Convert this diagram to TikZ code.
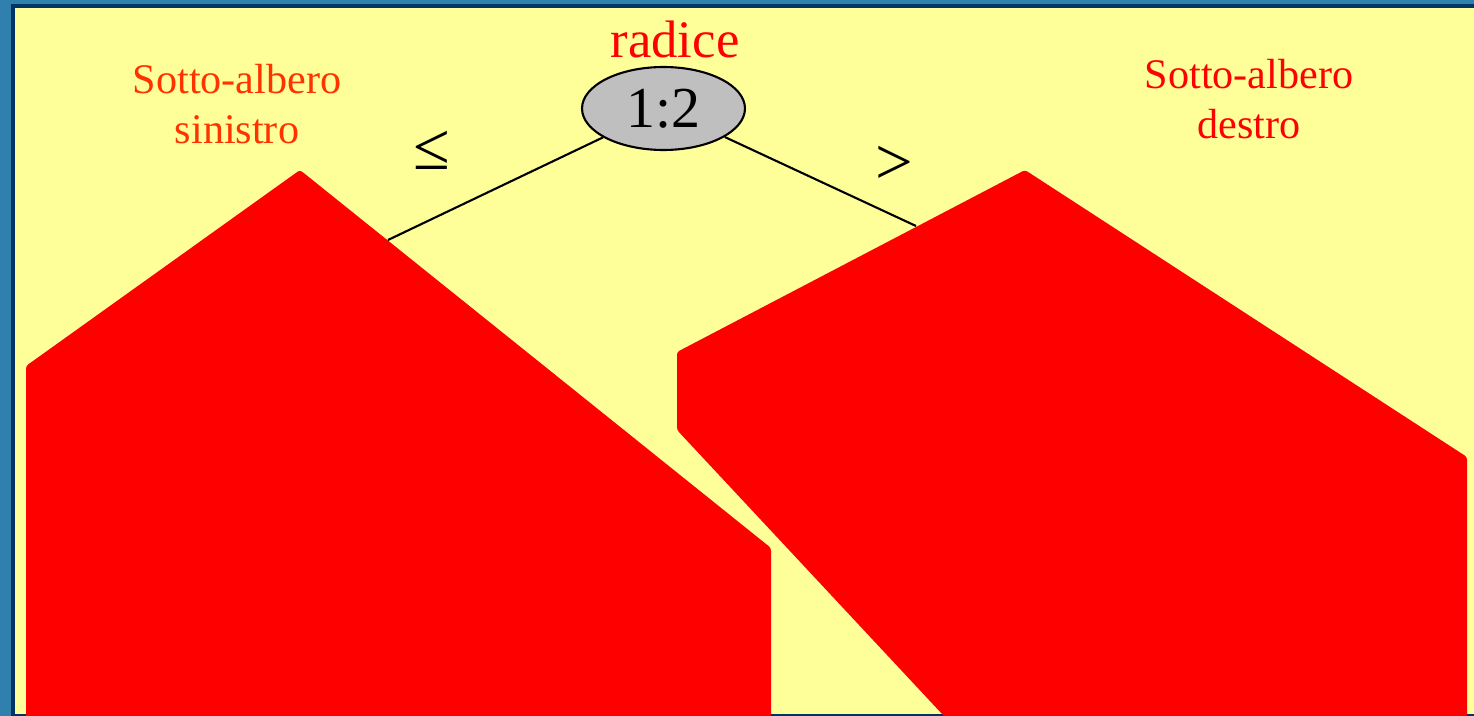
\documentclass[tikz,border=0pt]{standalone}
\usepackage{fontspec}
\setmainfont{Liberation Serif}
\usetikzlibrary{shapes.geometric}

\definecolor{panel}{HTML}{FFFF99}
\definecolor{frame}{HTML}{003366}
\definecolor{sfondo}{HTML}{3080AD}
\definecolor{arancio}{HTML}{FF3300}

\begin{document}
\begin{tikzpicture}[x=0.02cm,y=-0.02cm,
    subtree/.style={fill=red,draw=none,rounded corners=1.5pt},
    etichetta/.style={text=red,align=center,font=\fontsize{24}{28.5}\selectfont},
    ramo/.style={line width=1.2pt,black}]
    \useasboundingbox (0,0) rectangle (1474,716);
    % sfondo e cornice
    \fill[sfondo] (0,0) rectangle (1474,716);
    \fill[frame] (11,4) rectangle (1474,716);
    \fill[panel] (15,8) rectangle (1474,714);

    % sotto-alberi
    \fill[subtree] (26,730) -- (26,366) -- (300,170)
        -- (771,548) -- (771,730);
    \fill[subtree] (957,730) -- (677,430) -- (677,352)
        -- (1025,170) -- (1467,457) -- (1467,730);
    \coordinate (lattacco) at (388,240);
    \coordinate (rattacco) at (916,226);

    % radice
    \node[ellipse,draw,line width=1.2pt,fill=black!25,minimum width=3.26cm,
        minimum height=1.66cm,inner sep=0pt,
        font=\fontsize{33}{33}\selectfont] (radice) at (663.5,108.5) {1:2};
    \node[anchor=base,text=red,font=\fontsize{30}{30}\selectfont]
        (titolo) at (675,58) {radice};

    \draw[ramo] (radice) -- (lattacco);
    \draw[ramo] (radice) -- (rattacco);
    \node[font=\fontsize{38}{38}\selectfont] (minuguale) at (432,150) {≤};
    \node[font=\fontsize{38}{38}\selectfont] (maggiore) at (894,165) {>};

    \node[etichetta,text=arancio] (sinistro) at (237,104)
        {Sotto-albero\\sinistro};
    \node[etichetta] (destro) at (1249,99)
        {Sotto-albero\\destro};
\end{tikzpicture}
\end{document}
